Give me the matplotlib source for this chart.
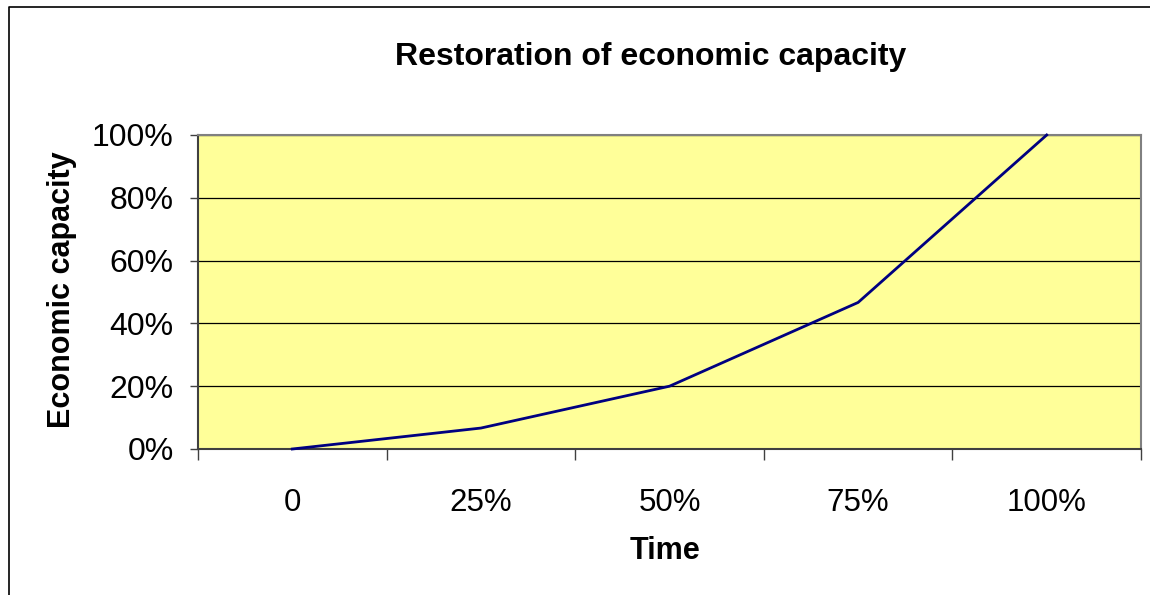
import matplotlib
matplotlib.use("Agg")
from matplotlib import pyplot as plt
from matplotlib.lines import Line2D
from matplotlib.ticker import PercentFormatter
import numpy as np

plt.rcParams['font.family'] = ['Liberation Sans', 'DejaVu Sans']

# data
time_labels = ["0", "25%", "50%", "75%", "100%"]
capacity = [0.0, 0.0667, 0.20, 0.4667, 1.0]
y_ticks = [0, 0.2, 0.4, 0.6, 0.8, 1.0]

W, H = 1150, 595
fig = plt.figure(figsize=(W / 100, H / 100), dpi=100)
ax = fig.add_axes([198 / W, 146 / H, 943 / W, 314 / H])

# outer chart border (only left and top are visible in the reference)
bx, by = 8.5 / W, 1 - 6.5 / H
fig.lines.append(Line2D([bx, bx, 1.01], [0, by, by], transform=fig.transFigure,
                        color='black', linewidth=1.2))

ax.set_facecolor('#FFFF99')
x = np.arange(len(time_labels))
ax.plot(x, capacity, color='#000080', linewidth=2, clip_on=False, zorder=3)

ax.set_xlim(-0.5, len(time_labels) - 0.5)
ax.set_ylim(0, 1)
ax.set_yticks(y_ticks)
ax.yaxis.set_major_formatter(PercentFormatter(1.0, decimals=0))
ax.yaxis.grid(True, color='black', linewidth=0.9)
ax.set_axisbelow(True)

ax.set_xticks(x)
ax.set_xticklabels(time_labels)
ax.set_xticks(np.arange(-0.5, len(time_labels)), minor=True)
ax.tick_params(axis='x', which='major', length=0, pad=28, labelsize=22.5)
ax.tick_params(axis='x', which='minor', length=8, width=1, color='#404040')
ax.tick_params(axis='y', length=6, width=1, pad=11.5, labelsize=23, color='#404040')

for side in ['top', 'right']:
    ax.spines[side].set_color('#808080')
    ax.spines[side].set_linewidth(1.5)
for side in ['left', 'bottom']:
    ax.spines[side].set_color('#404040')
    ax.spines[side].set_linewidth(1.5)

fig.text(651 / W, 1 - 57 / H, "Restoration of economic capacity",
         ha='center', va='center', fontsize=23, fontweight='bold')
fig.text(665 / W, 1 - 551 / H, "Time",
         ha='center', va='center', fontsize=22, fontweight='bold')
fig.text(62 / W, 1 - 290 / H, "Economic capacity", rotation=90,
         ha='center', va='center', fontsize=22, fontweight='bold')

fig.savefig("out.png", dpi=100)
